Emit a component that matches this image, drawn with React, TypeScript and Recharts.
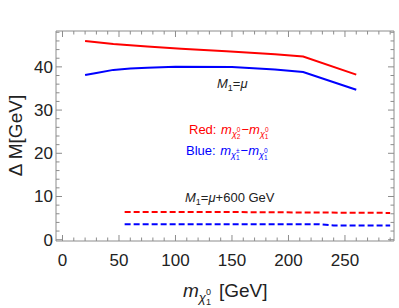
import React from 'react';
import { LineChart, Line, XAxis, YAxis, Customized } from 'recharts';

// neutralino mass (GeV) and mass gaps (GeV)
const redSolidMass = [20, 45, 75, 105, 145, 188, 213, 260];
const redSolidGap = [46.0, 45.3, 44.7, 44.2, 43.6, 42.9, 42.4, 38.2];
const blueSolidMass = [20, 30, 45, 60, 75, 100, 150, 188, 213, 260];
const blueSolidGap = [38.1, 38.6, 39.3, 39.6, 39.8, 40.0, 39.95, 39.4, 38.8, 34.7];

const redDashMass = [55, 150, 220, 290];
const redDashGap = [6.4, 6.4, 6.3, 6.2];
const blueDashMass = [55, 225, 240, 290];
const blueDashGap = [3.6, 3.6, 3.3, 3.3];

const xTicks = [0, 10, 20, 30, 40, 50, 60, 70, 80, 90, 100, 110, 120, 130, 140, 150, 160, 170, 180, 190, 200, 210, 220, 230, 240, 250, 260, 270, 280, 290];
const xLabels = [0, 50, 100, 150, 200, 250];
const yTicks = [0, 2, 4, 6, 8, 10, 12, 14, 16, 18, 20, 22, 24, 26, 28, 30, 32, 34, 36, 38, 40, 42, 44, 46, 48];
const yLabels = [0, 10, 20, 30, 40];

const toPoints = (xs: number[], ys: number[]) => xs.map((x, i) => ({ x, y: ys[i] }));

const FRAME = '#8c8c8c';
const FONT = '"Liberation Sans", Arial, sans-serif';
const MAJOR = 6;
const MINOR = 3.5;

const BottomTick = (props: any) => {
  const { x, y, payload } = props;
  const major = xLabels.includes(payload.value);
  return (
    <g>
      <line x1={x} y1={y} x2={x} y2={y - (major ? MAJOR : MINOR)} stroke={FRAME} />
      {major && (
        <text x={x} y={y + 24.5} textAnchor="middle" fontSize={17} fill="#222" fontFamily={FONT}>
          {payload.value}
        </text>
      )}
    </g>
  );
};

const TopTick = (props: any) => {
  const { x, y, payload } = props;
  const major = xLabels.includes(payload.value);
  return <line x1={x} y1={y} x2={x} y2={y + (major ? MAJOR : MINOR)} stroke={FRAME} />;
};

const LeftTick = (props: any) => {
  const { x, y, payload } = props;
  const major = yLabels.includes(payload.value);
  return (
    <g>
      <line x1={x} y1={y} x2={x + (major ? MAJOR : MINOR)} y2={y} stroke={FRAME} />
      {major && (
        <text x={x - 3} y={y + 6} textAnchor="end" fontSize={17} fill="#222" fontFamily={FONT}>
          {payload.value}
        </text>
      )}
    </g>
  );
};

const RightTick = (props: any) => {
  const { x, y, payload } = props;
  const major = yLabels.includes(payload.value);
  return <line x1={x} y1={y} x2={x - (major ? MAJOR : MINOR)} y2={y} stroke={FRAME} />;
};

const Annotations = () => (
  <g fontFamily={FONT}>
    <text x={217} y={88} fontSize={13} fill="#222">
      <tspan fontStyle="italic">M</tspan>
      <tspan fontSize={9} dy={3}>1</tspan>
      <tspan dy={-3}>=</tspan>
      <tspan fontStyle="italic">μ</tspan>
    </text>
    <text x={189} y={134} fontSize={13} fill="#ff0000">
      <tspan>Red: </tspan>
      <tspan fontStyle="italic" dx={1}>m</tspan>
      <tspan fontStyle="italic" fontSize={9} dy={3}>χ</tspan>
      <tspan fontSize={6.5} dy={2}>2</tspan>
      <tspan fontSize={6.5} dx={-3.6} dy={-7}>0</tspan>
      <tspan dx={1} dy={2}>−</tspan>
      <tspan fontStyle="italic">m</tspan>
      <tspan fontStyle="italic" fontSize={9} dy={3}>χ</tspan>
      <tspan fontSize={6.5} dy={2}>1</tspan>
      <tspan fontSize={6.5} dx={-3.6} dy={-7}>0</tspan>
    </text>
    <text x={186} y={155} fontSize={13} fill="#0000ff">
      <tspan>Blue: </tspan>
      <tspan fontStyle="italic" dx={1}>m</tspan>
      <tspan fontStyle="italic" fontSize={9} dy={3}>χ</tspan>
      <tspan fontSize={6.5} dy={2}>1</tspan>
      <tspan fontSize={6.5} dx={-3.6} dy={-7}>±</tspan>
      <tspan dx={1} dy={2}>−</tspan>
      <tspan fontStyle="italic">m</tspan>
      <tspan fontStyle="italic" fontSize={9} dy={3}>χ</tspan>
      <tspan fontSize={6.5} dy={2}>1</tspan>
      <tspan fontSize={6.5} dx={-3.6} dy={-7}>0</tspan>
    </text>
    <text x={185} y={202} fontSize={13} fill="#222">
      <tspan fontStyle="italic">M</tspan>
      <tspan fontSize={9} dy={3}>1</tspan>
      <tspan dy={-3}>=</tspan>
      <tspan fontStyle="italic">μ</tspan>
      <tspan>+600 GeV</tspan>
    </text>
    <text x={22} y={135.5} fontSize={19} fill="#222" textAnchor="middle" transform="rotate(-90 22 135.5)">
      Δ M[GeV]
    </text>
    <text x={183} y={296.5} fontSize={19} fill="#222">
      <tspan fontStyle="italic">m</tspan>
      <tspan fontStyle="italic" fontSize={13} dy={5}>χ</tspan>
      <tspan fontSize={9} dy={3}>1</tspan>
      <tspan fontSize={9} dx={-5} dy={-10}>0</tspan>
      <tspan dy={2} dx={8}>[GeV]</tspan>
    </text>
  </g>
);

export default function App() {
  return (
    <div style={{ position: 'absolute', left: 0, top: 0, width: 399, height: 308, background: '#fff' }}>
      <LineChart width={399} height={308} margin={{ top: 30, right: 4, bottom: 0, left: 0 }}>
        <XAxis
          xAxisId="bottom"
          type="number"
          dataKey="x"
          domain={[-5.75, 293.4]}
          allowDataOverflow
          ticks={xTicks}
          interval={0}
          height={67}
          tickSize={0}
          tickMargin={0}
          tickLine={false}
          axisLine={{ stroke: FRAME }}
          tick={<BottomTick />}
        />
        <XAxis
          xAxisId="top"
          orientation="top"
          type="number"
          dataKey="x"
          domain={[-5.75, 293.4]}
          allowDataOverflow
          ticks={xTicks}
          interval={0}
          height={1}
          tickSize={0}
          tickMargin={0}
          tickLine={false}
          axisLine={{ stroke: FRAME }}
          tick={<TopTick />}
        />
        <YAxis
          yAxisId="left"
          type="number"
          domain={[-0.3, 48.3]}
          allowDataOverflow
          ticks={yTicks}
          interval={0}
          width={56}
          tickSize={0}
          tickMargin={0}
          tickLine={false}
          axisLine={{ stroke: FRAME }}
          tick={<LeftTick />}
        />
        <YAxis
          yAxisId="right"
          orientation="right"
          type="number"
          domain={[-0.3, 48.3]}
          allowDataOverflow
          ticks={yTicks}
          interval={0}
          width={1}
          tickSize={0}
          tickMargin={0}
          tickLine={false}
          axisLine={{ stroke: FRAME }}
          tick={<RightTick />}
        />
        <Line
          xAxisId="bottom"
          yAxisId="left"
          data={toPoints(redSolidMass, redSolidGap)}
          dataKey="y"
          type="linear"
          stroke="#ff0000"
          strokeWidth={2}
          dot={false}
          isAnimationActive={false}
        />
        <Line
          xAxisId="bottom"
          yAxisId="left"
          data={toPoints(blueSolidMass, blueSolidGap)}
          dataKey="y"
          type="linear"
          stroke="#0000ff"
          strokeWidth={2}
          dot={false}
          isAnimationActive={false}
        />
        <Line
          xAxisId="bottom"
          yAxisId="left"
          data={toPoints(redDashMass, redDashGap)}
          dataKey="y"
          type="linear"
          stroke="#ff0000"
          strokeWidth={2}
          strokeDasharray="6 3"
          dot={false}
          isAnimationActive={false}
        />
        <Line
          xAxisId="bottom"
          yAxisId="left"
          data={toPoints(blueDashMass, blueDashGap)}
          dataKey="y"
          type="linear"
          stroke="#0000ff"
          strokeWidth={2}
          strokeDasharray="6 3"
          dot={false}
          isAnimationActive={false}
        />
        <Customized component={Annotations} />
      </LineChart>
    </div>
  );
}
